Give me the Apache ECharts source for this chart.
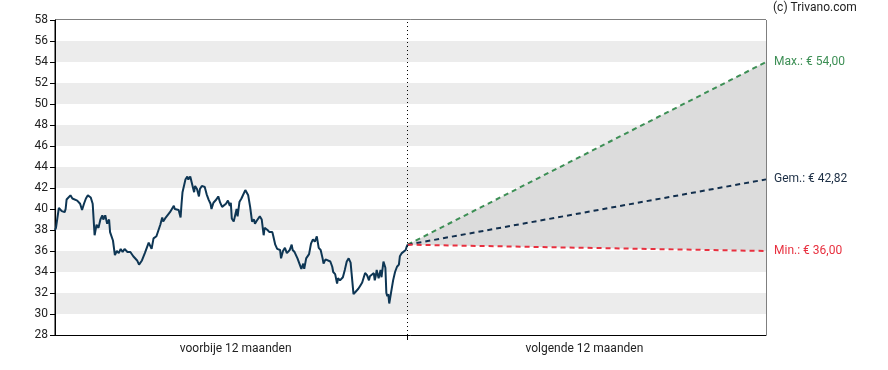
<!DOCTYPE html>
<html>
<head>
<meta charset="utf-8">
<script src="https://cdn.jsdelivr.net/npm/echarts@6/dist/echarts.min.js"></script>
<style>html,body{margin:0;padding:0;background:#fff}#c{width:888px;height:370px}</style>
</head>
<body>
<div id="c"></div>
<script>
// calendar days since start of the past 12-month window
const days = [0,1,4,5,7,10,11,12,16,18,23,26,28,30,32,34,37,39,41,43,45,47,49,50,52,54,56,57,60,62,64,66,68,70,72,75,78,81,83,85,87,90,93,94,97,99,100,102,105,107,109,111,112,114,116,119,121,123,124,126,128,130,131,132,135,137,138,140,142,144,145,147,149,150,152,155,157,159,161,162,164,167,169,171,173,175,177,179,181,182,183,185,186,188,189,191,193,195,197,199,200,202,204,206,207,209,212,214,216,217,220,222,225,226,228,230,233,234,236,238,240,243,245,246,248,251,253,255,257,258,260,263,265,267,269,271,272,273,275,277,278,280,282,285,287,288,290,292,293,295,298,300,302,304,306,307,309,311,312,314,316,317,318,320,321,323,325,326,328,330,331,332,333,335,337,338,340,342,343,344,345,346,348,350,352,354,356,357,359,361,363,364,365];
const prices = [38.0,38.2,40.1,40.0,39.8,39.7,40.0,40.9,41.3,41.0,40.8,40.5,39.9,40.5,41.0,41.3,41.1,40.5,37.5,38.5,38.2,39.0,39.4,39.0,39.4,38.6,39.0,37.8,37.0,35.6,36.0,35.8,36.2,35.9,36.2,35.9,35.9,35.5,35.6,35.1,34.7,35.1,35.8,35.9,36.8,36.9,36.2,37.2,37.4,37.5,38.5,39.2,38.8,39.1,39.1,39.7,40.0,40.3,40.0,40.0,39.9,39.2,40.5,41.6,42.8,43.1,42.8,43.1,43.0,41.6,42.2,41.9,41.2,41.9,42.2,42.1,41.4,40.9,40.5,40.0,40.6,40.9,41.2,40.6,40.2,40.3,40.5,40.8,40.3,40.6,39.1,38.8,38.8,40.0,39.3,40.7,41.0,40.9,41.8,41.8,41.3,40.2,38.8,39.0,38.6,38.9,39.3,39.0,37.5,38.2,38.0,37.8,37.8,37.4,36.6,36.2,36.1,35.3,36.0,36.3,35.8,36.1,36.6,36.1,35.9,35.3,34.8,34.3,34.8,34.3,35.3,35.7,36.7,37.1,36.9,37.4,37.4,36.3,36.1,35.3,34.8,35.2,35.1,35.0,34.5,34.0,33.8,32.9,33.4,33.2,33.5,34.2,35.0,35.3,34.9,33.9,31.9,32.1,32.2,32.4,32.7,32.6,33.0,32.9,33.9,33.7,33.2,33.6,33.7,33.9,33.2,33.6,34.2,33.4,34.2,33.5,35.0,34.4,32.0,31.7,31.9,31.0,32.1,33.2,34.0,34.5,34.7,35.5,35.8,35.7,36.1,36.4,36.6];
const horizonDay = 736;          // end of the next 12-month window
const targetMax = 54.00;
const targetAvg = 42.82;
const targetMin = 36.00;
const periodLabels = ['voorbije 12 maanden', 'volgende 12 maanden'];
const yTicks = {min: 28, max: 58, step: 2};

const todayDay = days[days.length - 1];
const lastPrice = prices[prices.length - 1];
const priceData = days.map((d, i) => [d, prices[i]]);
const eur = v => '€ ' + v.toFixed(2).replace('.', ',');
const fc = t => [[todayDay, lastPrice], [horizonDay, t]];

const FONT = 'Roboto';
const chart = echarts.init(document.getElementById('c'), null, {renderer: 'canvas'});
chart.setOption({
  animation: false,
  backgroundColor: '#fff',
  textStyle: {fontFamily: FONT},
  grid: {left: 55, right: 122, top: 20, bottom: 35, show: true, borderColor: '#000', borderWidth: 1, backgroundColor: 'transparent'},
  graphic: [{type: 'text', left: 773, top: 2, style: {text: '(c) Trivano.com', fill: '#222', font: '12px Roboto'}}],
  xAxis: {
    type: 'value', min: 0, max: horizonDay,
    axisLine: {show: true, lineStyle: {color: '#000', width: 1}},
    axisTick: {show: true, length: 5, lineStyle: {color: '#000'}, customValues: [todayDay]},
    axisLabel: {
      show: true, margin: 8, color: '#222', fontSize: 12, fontFamily: FONT,
      customValues: [187, 548],
      formatter: v => (v < todayDay ? periodLabels[0] : periodLabels[1])
    },
    splitLine: {show: false}
  },
  yAxis: {
    type: 'value', min: yTicks.min, max: yTicks.max, interval: yTicks.step,
    axisLine: {show: true, lineStyle: {color: '#000', width: 1}},
    axisTick: {show: true, length: 5, lineStyle: {color: '#000'}},
    axisLabel: {color: '#222', fontSize: 12, fontFamily: FONT, margin: 7},
    splitLine: {show: false},
    splitArea: {show: true, areaStyle: {color: ['#ffffff', '#ececec']}}
  },
  series: [
    {
      type: 'custom', silent: true, z: 1, clip: true,
      data: [[todayDay, lastPrice, horizonDay, targetMax, targetMin]],
      encode: {x: [0, 2], y: [1, 3, 4]},
      renderItem: (params, api) => {
        const p0 = api.coord([api.value(0), api.value(1)]);
        const p1 = api.coord([api.value(2), api.value(3)]);
        const p2 = api.coord([api.value(2), api.value(4)]);
        return {type: 'polygon', shape: {points: [p0, p1, p2]}, style: {fill: '#dcdcdc'}};
      }
    },
    {
      type: 'line', data: priceData, showSymbol: false, symbol: 'none',
      lineStyle: {color: '#0e3654', width: 2}, z: 4,
      markLine: {
        silent: true, symbol: ['none', 'none'], label: {show: false},
        lineStyle: {color: '#000', width: 1, type: [1, 3]},
        data: [{xAxis: todayDay}]
      }
    },
    {
      type: 'line', data: fc(targetMax), symbol: 'none',
      lineStyle: {color: '#3d8f55', width: 2, type: [5, 4]}, z: 3,
      endLabel: {show: true, formatter: 'Max.: ' + eur(targetMax), color: '#3d8f55', fontSize: 12, fontFamily: FONT, distance: 8}
    },
    {
      type: 'line', data: fc(targetAvg), symbol: 'none',
      lineStyle: {color: '#122f4d', width: 2, type: [5, 4]}, z: 3,
      endLabel: {show: true, formatter: 'Gem.: ' + eur(targetAvg), color: '#1d2f45', fontSize: 12, fontFamily: FONT, distance: 8}
    },
    {
      type: 'line', data: fc(targetMin), symbol: 'none',
      lineStyle: {color: '#e8303f', width: 2, type: [5, 4]}, z: 3,
      endLabel: {show: true, formatter: 'Min.: ' + eur(targetMin), color: '#e8303f', fontSize: 12, fontFamily: FONT, distance: 8}
    }
  ]
});
</script>
</body>
</html>
